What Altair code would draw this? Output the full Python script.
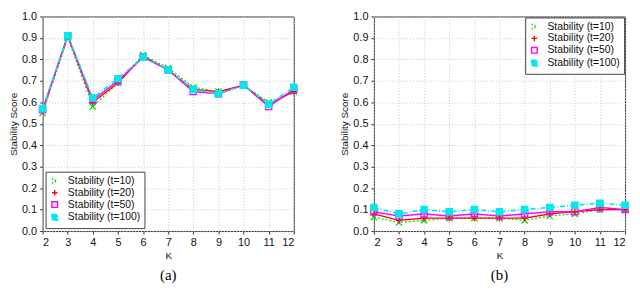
import altair as alt
import pandas as pd

K = [2, 3, 4, 5, 6, 7, 8, 9, 10, 11, 12]
series = ["Stability (t=10)", "Stability (t=20)", "Stability (t=50)", "Stability (t=100)"]

# panel (a)
a_t10 = [0.55, 0.90, 0.58, 0.69, 0.82, 0.76, 0.67, 0.65, 0.68, 0.60, 0.65]
a_t20 = [0.56, 0.91, 0.60, 0.69, 0.815, 0.75, 0.66, 0.65, 0.68, 0.59, 0.65]
a_t50 = [0.565, 0.91, 0.61, 0.70, 0.81, 0.75, 0.65, 0.64, 0.68, 0.58, 0.66]
a_t100 = [0.57, 0.91, 0.62, 0.71, 0.81, 0.75, 0.66, 0.64, 0.68, 0.59, 0.67]

# panel (b)
b_t10 = [0.065, 0.04, 0.05, 0.06, 0.06, 0.06, 0.05, 0.07, 0.08, 0.10, 0.10]
b_t20 = [0.08, 0.05, 0.06, 0.06, 0.06, 0.06, 0.06, 0.08, 0.09, 0.10, 0.10]
b_t50 = [0.09, 0.07, 0.08, 0.07, 0.08, 0.07, 0.08, 0.09, 0.09, 0.11, 0.10]
b_t100 = [0.11, 0.08, 0.10, 0.09, 0.10, 0.09, 0.10, 0.11, 0.12, 0.13, 0.12]

colors = ["#00e000", "#ff0000", "#ff00ff", "#00e8f0"]
fills = ["transparent", "transparent", "transparent", "#00e8f0"]
shapes = ["M-1,-1L1,1M-1,1L1,-1", "M-1,0L1,0M0,-1L0,1", "square", "square"]
dashes = [[2, 2], [1, 0], [1, 0], [5, 2, 1, 2]]
widths = [1.2, 1.6, 1.0, 1.0]


def make_df(vals):
    rows = []
    for s, v in zip(series, vals):
        for k, y in zip(K, v):
            rows.append({"K": k, "score": y, "series": s})
    return pd.DataFrame(rows)


def panel(df, caption, orient, offset):
    xenc = alt.X("K:Q", scale=alt.Scale(domain=[2, 12], nice=False),
                 axis=alt.Axis(values=K, title="K", format="d"))
    yenc = alt.Y("score:Q", scale=alt.Scale(domain=[0, 1], nice=False),
                 axis=alt.Axis(values=[i / 10 for i in range(11)], format=".1f",
                               title="Stability Score"))
    cscale = alt.Scale(domain=series, range=colors)
    leg = alt.Legend(title=None, orient=orient, offset=offset, strokeColor="#444",
                     fillColor="white", padding=4, labelFontSize=10.5, rowPadding=0,
                     symbolSize=32, symbolStrokeWidth=1.3, labelFont="Liberation Sans",
                     labelColor="#111", labelOffset=8)
    lines = alt.Chart(df).mark_line().encode(
        x=xenc, y=yenc,
        color=alt.Color("series:N", scale=cscale, legend=leg),
        strokeDash=alt.StrokeDash("series:N", scale=alt.Scale(domain=series, range=dashes), legend=None),
        strokeWidth=alt.StrokeWidth("series:N", scale=alt.Scale(domain=series, range=widths), legend=None),
    )
    points = alt.Chart(df).mark_point(size=40, strokeWidth=1.3, opacity=1).encode(
        x=xenc, y=yenc,
        color=alt.Color("series:N", scale=cscale, legend=leg),
        shape=alt.Shape("series:N", scale=alt.Scale(domain=series, range=shapes), legend=leg),
        fill=alt.Fill("series:N", scale=alt.Scale(domain=series, range=fills), legend=leg),
    )
    return alt.layer(lines, points).properties(
        width=254, height=217,
        title=alt.TitleParams(caption, orient="bottom", font="Liberation Serif",
                              fontSize=15, fontWeight="normal", offset=7),
    )


left = panel(make_df([a_t10, a_t20, a_t50, a_t100]), "(a)", "bottom-left", 3)
right = panel(make_df([b_t10, b_t20, b_t50, b_t100]), "(b)", "top-right", 1)

chart = alt.hconcat(left, right, spacing=39).resolve_scale(
    color="independent", shape="independent", fill="independent",
    strokeDash="independent", strokeWidth="independent"
).configure(padding=0, font="Liberation Sans").configure_view(
    stroke="#333", strokeWidth=1
).configure_axis(
    grid=True, gridColor="#c8c8c8", gridDash=[1, 2], gridWidth=1,
    domain=False, tickColor="#333", tickSize=3,
    labelFontSize=11, labelColor="#111", labelFont="Liberation Sans",
    titleFontSize=10, titleFontWeight="normal", titleColor="#111",
    titleFont="Liberation Sans", labelPadding=3,
).configure_axisY(titlePadding=3).configure_axisX(titlePadding=3)

chart.save("out.html", embed_options={"renderer": "svg", "actions": False})
